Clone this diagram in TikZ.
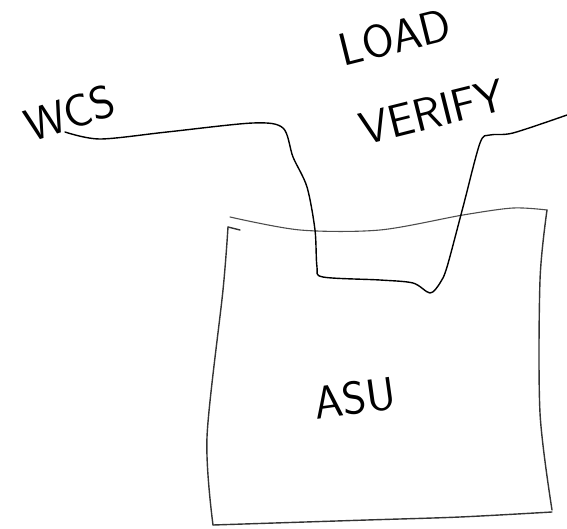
\documentclass[tikz,border=0pt]{standalone}
\begin{document}
\begin{tikzpicture}[x=1pt,y=-1pt,
  scrawl/.style={font=\sffamily\fontsize{46}{46}\selectfont, inner sep=0pt},
  pen/.style={line width=1.4pt, line join=round, line cap=round}]
\useasboundingbox (0,0) rectangle (567,529);
% box
\draw[pen, black!70, line width=1.1pt] plot[smooth, tension=0.5] coordinates {(230,217) (300,230) (380,230) (463,215) (513,208) (547,210)};
\draw[pen, black!80] plot[smooth, tension=0.5] coordinates {(547,210) (540,280) (540,413) (552,510)};
\draw[pen, black!80] plot[smooth, tension=0.5] coordinates {(552,512) (460,517) (367,520) (213,525)};
\draw[pen, black!80] plot[smooth, tension=0.5] coordinates {(213,525) (207,437) (223,290) (228,227)};
\draw[pen, black!80] (228,227) -- (240,230);
\node[scrawl, rotate=8] (asu) at (355,398) {ASU};
% labels
\node[scrawl, rotate=18] (wcs) at (70,113) {WCS};
\node[scrawl, rotate=14] (load) at (395,37) {LOAD};
\node[scrawl, rotate=14] (verify) at (432,112) {VERIFY};
% line
\coordinate (start) at (65,132);
\coordinate (stop) at (567,115);
\draw[pen] plot[smooth, tension=0.5] coordinates {(start) (100,139) (167,132) (253,123) (283,128) (293,157) (307,187) (315,230) (317,267) (323,277) (380,280) (413,283) (430,293) (440,283) (447,267) (463,207) (480,143) (490,135) (513,133) (stop)};
\end{tikzpicture}
\end{document}
